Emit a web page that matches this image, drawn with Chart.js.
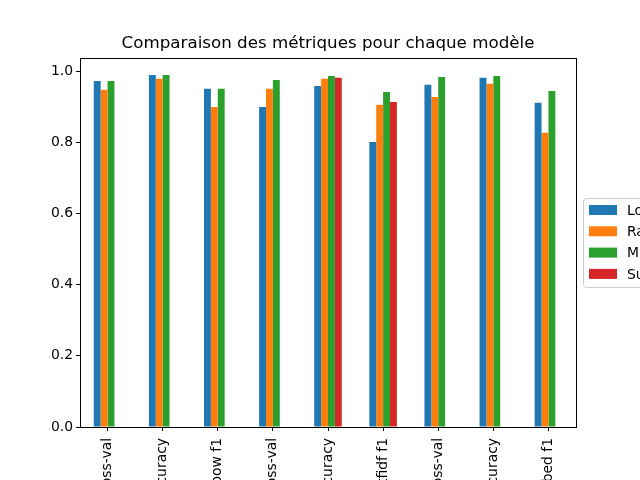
<!DOCTYPE html>
<html>
<head>
<meta charset="utf-8">
<script src="https://cdn.jsdelivr.net/npm/chart.js@4"></script>
<style>
html,body{margin:0;padding:0;background:#fff;overflow:hidden;}
#wrap{width:640px;height:480px;}
</style>
</head>
<body>
<div id="wrap"><canvas id="c" width="640" height="480"></canvas></div>
<script>
const categories = ["bow cross-val","bow accuracy","bow f1","tfidf cross-val","tfidf accuracy","tfidf f1","embed cross-val","embed accuracy","embed f1"];
const seriesNames = ["Logistic Regression","Random Forest","Multinomial NB","Support Vector Machine"];
const logreg = [0.973,0.990,0.951,0.900,0.959,0.801,0.962,0.982,0.912];
const randforest = [0.948,0.979,0.900,0.951,0.979,0.906,0.928,0.965,0.827];
const multinb = [0.973,0.990,0.951,0.976,0.987,0.942,0.984,0.987,0.945];
const svm = [null,null,null,null,0.982,0.914,null,null,null];
const colors = ["#1f77b4","#ff7f0e","#2ca02c","#d62728"];
const yTicks = [0,0.2,0.4,0.6,0.8,1.0];

const FONT = "'DejaVu Sans', sans-serif";

const frame = {
  id:'frame',
  afterDatasetsDraw(chart){
    const a = chart.chartArea, ctx = chart.ctx;
    ctx.save();
    ctx.strokeStyle = '#000';
    ctx.lineWidth = 1;
    ctx.strokeRect(Math.round(a.left)+0.5, Math.round(a.top)+0.5, Math.round(a.right-a.left), Math.round(a.bottom-a.top));
    ctx.restore();
  }
};

const sideLegend = {
  id:'sideLegend',
  afterDraw(chart){
    const ctx = chart.ctx;
    const a = chart.chartArea;
    const x0 = a.right + 7, y0 = 198, w = 200, h = 89;
    ctx.save();
    ctx.fillStyle = 'rgba(255,255,255,0.8)';
    ctx.strokeStyle = '#cccccc';
    ctx.lineWidth = 1;
    ctx.beginPath();
    if (ctx.roundRect) ctx.roundRect(x0+0.5, y0+0.5, w, h, 3); else ctx.rect(x0+0.5,y0+0.5,w,h);
    ctx.fill(); ctx.stroke();
    ctx.font = '13.9px ' + FONT;
    ctx.textBaseline = 'middle';
    chart.data.datasets.forEach((ds, i) => {
      const cy = 210 + i*21.3;
      ctx.fillStyle = ds.backgroundColor;
      ctx.fillRect(x0+6, cy-5, 28, 10);
      ctx.fillStyle = '#000';
      ctx.fillText(ds.label, x0+44, cy+1);
    });
    ctx.restore();
  }
};

const values = [logreg, randforest, multinb, svm];
new Chart(document.getElementById('c'), {
  type:'bar',
  data:{
    labels: categories,
    datasets: seriesNames.map((n,i)=>({
      label:n,
      data: values[i],
      backgroundColor: colors[i],
      borderWidth:0,
      categoryPercentage:0.5,
      barPercentage:1.0
    }))
  },
  options:{
    responsive:false,
    animation:false,
    events:[],
    layout:{padding:{left:0,right:64,top:0,bottom:0}},
    plugins:{
      legend:{display:false},
      tooltip:{enabled:false},
      title:{
        display:true,
        text:'Comparaison des métriques pour chaque modèle',
        fullSize:false,
        color:'#000',
        font:{family:FONT,size:16.7,weight:'normal'},
        padding:{top:34,bottom:4}
      }
    },
    scales:{
      x:{
        offset:true,
        grid:{display:true,drawOnChartArea:false,drawTicks:true,tickLength:4,tickColor:'#000',offset:false},
        border:{display:true,color:'#000'},
        ticks:{
          autoSkip:false,minRotation:90,maxRotation:90,padding:7,
          color:'#000',font:{family:FONT,size:13.9}
        },
        afterFit(scale){ scale.height = 53; }
      },
      y:{
        min:0,max:1.0374,
        grid:{display:true,drawOnChartArea:false,drawTicks:true,tickLength:4,tickColor:'#000'},
        border:{display:true,color:'#000'},
        afterBuildTicks(scale){ scale.ticks = yTicks.map(v=>({value:v})); },
        ticks:{
          includeBounds:false,padding:3,color:'#000',font:{family:FONT,size:13.9},
          callback:(v)=>Number(v).toFixed(1)
        },
        afterFit(scale){ scale.width = 80; }
      }
    }
  },
  plugins:[frame, sideLegend]
});
</script>
</body>
</html>
